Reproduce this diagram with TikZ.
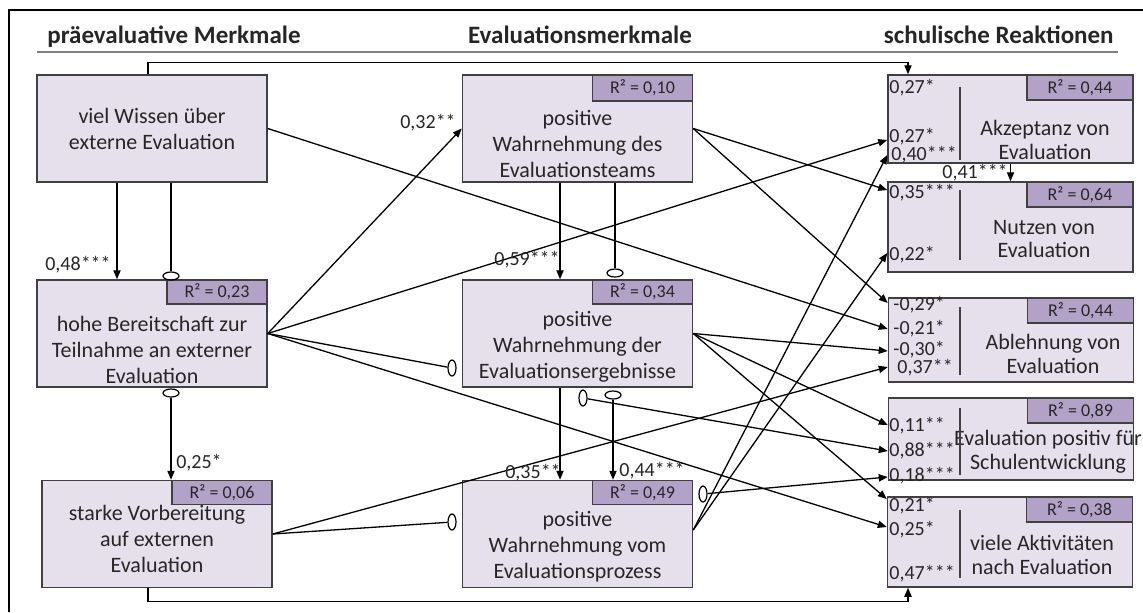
\documentclass[tikz,border=0pt]{standalone}
\usepackage{fontspec}
\setmainfont{Carlito}
\usetikzlibrary{arrows.meta,shapes.geometric,positioning}
\definecolor{boxfill}{HTML}{E6E0EC}
\definecolor{rsqfill}{HTML}{B3A2C7}
\definecolor{boxline}{HTML}{404040}
\definecolor{txt}{HTML}{262626}
\tikzset{
  box/.style={draw=boxline,fill=boxfill,line width=0.75pt,text=txt,align=center,
    font=\fontsize{11}{13}\selectfont,inner sep=0pt,minimum width=115pt,minimum height=53.5pt},
  rbox/.style={box,minimum width=122.5pt},
  boxtext/.style={text=txt,align=center,font=\fontsize{11}{13}\selectfont,inner sep=0pt},
  rtext/.style={boxtext,font=\fontsize{11}{11.8}\selectfont},
  rsq/.style={draw=boxline,fill=rsqfill,line width=0.75pt,text=txt,anchor=north east,
    font=\fontsize{9}{10}\selectfont,inner sep=0pt,minimum width=50pt,minimum height=12pt},
  rrsq/.style={rsq,minimum width=53pt,minimum height=12.5pt},
  coef/.style={text=txt,font=\fontsize{10}{10}\selectfont,inner sep=0pt},
  rcoef/.style={coef,anchor=west},
  head/.style={text=txt,font=\fontsize{12.5}{14}\selectfont\bfseries,inner sep=0pt},
  arrow/.style={-{Triangle[length=4.5pt,width=3.6pt]},line width=0.65pt},
  link/.style={line width=0.65pt},
  divider/.style={draw=boxline,line width=0.6pt},
  ovalh/.style={draw,ellipse,line width=0.6pt,minimum width=8pt,minimum height=4pt,inner sep=0pt},
  ovalv/.style={ovalh,minimum width=4pt,minimum height=8pt},
}
\begin{document}
\begin{tikzpicture}[x=0.5pt,y=-0.5pt]
\useasboundingbox (0,0) rectangle (1143,612);

% frame and headings
\draw[line width=1.2pt] (9,612) -- (9,10) -- (1143,10);
\draw[gray,line width=1pt] (37,52) -- (1118,52);
\node[head,anchor=base west] (H1) at (47,43) {präevaluative Merkmale};
\node[head,anchor=base] (H2) at (580,43) {Evaluationsmerkmale};
\node[head,anchor=base east] (H3) at (1114,43) {schulische Reaktionen};

% praeevaluative Merkmale
\node[box] (B1) at (152,128.5) {viel Wissen über\\externe Evaluation};
\node[box] (B2) at (152,333.5) {};
\node[rsq] (B2r) at (B2.north east) {R² = 0,23};
\node[boxtext] (B2t) at (152,350) {hohe Bereitschaft zur\\Teilnahme an externer\\Evaluation};
\node[box] (B3) at (157,534) {};
\node[rsq] (B3r) at (B3.north east) {R² = 0,06};
\node[boxtext] (B3t) at (157,539) {starke Vorbereitung\\auf externen\\Evaluation};

% Evaluationsmerkmale
\node[box] (M1) at (577.5,128.5) {};
\node[rsq,minimum height=13pt] (M1r) at (M1.north east) {R² = 0,10};
\node[boxtext] (M1t) at (577.5,144) {positive\\Wahrnehmung des\\Evaluationsteams};
\node[box] (M2) at (577.5,333.5) {};
\node[rsq] (M2r) at (M2.north east) {R² = 0,34};
\node[boxtext] (M2t) at (577.5,347) {positive\\Wahrnehmung der\\Evaluationsergebnisse};
\node[box] (M3) at (577.5,534) {};
\node[rsq] (M3r) at (M3.north east) {R² = 0,49};
\node[boxtext] (M3t) at (577.5,547) {positive\\Wahrnehmung vom\\Evaluationsprozess};

% schulische Reaktionen
\node[rbox,minimum height=44pt] (R1) at (1010.5,119) {};
\node[rrsq] (R1r) at (R1.north east) {R² = 0,44};
\node[rtext] (R1t) at (1045,140) {Akzeptanz von\\Evaluation};
\draw[divider] (960,87) -- (960,160);
\node[rbox,minimum height=45pt] (R2) at (1010.5,227) {};
\node[rrsq] (R2r) at (R2.north east) {R² = 0,64};
\node[rtext] (R2t) at (1044,239) {Nutzen von\\Evaluation};
\draw[divider] (960,190) -- (960,260);
\node[rbox,minimum height=42pt] (R3) at (1011,340) {};
\node[rrsq] (R3r) at (R3.north east) {R² = 0,44};
\node[rtext] (R3t) at (1053,354) {Ablehnung von\\Evaluation};
\draw[divider] (960,307) -- (960,375);
\node[rbox,minimum height=41pt] (R4) at (1011,439) {};
\node[rrsq] (R4r) at (R4.north east) {R² = 0,89};
\node[rtext] (R4t) at (1048,452) {Evaluation positiv für\\Schulentwicklung};
\draw[divider] (960,408) -- (960,475);
\node[rbox,minimum height=45pt] (R5) at (1010,542) {};
\node[rrsq] (R5r) at (R5.north east) {R² = 0,38};
\node[rtext] (R5t) at (1042,555) {viele Aktivitäten\\nach Evaluation};
\draw[divider] (960,510) -- (960,578);

% ovals
\node[ovalh] (o1) at (171,276) {};
\node[ovalh] (o2) at (171,393) {};
\node[ovalh] (o3) at (615,273) {};
\node[ovalh] (o4) at (613,395) {};
\node[ovalv] (o5) at (452,368) {};
\node[ovalv] (o6) at (452,522) {};
\node[ovalv] (o7) at (583,398) {};
\node[ovalv] (o8) at (703,494) {};

% vertical paths
\draw[arrow] ([xshift=-17.5pt]B1.south) -- ([xshift=-17.5pt]B2.north);
\draw[link] (o1 |- B1.south) -- (o1);
\draw[arrow] (o2) -- (o2 |- B3.north);
\draw[arrow] ([xshift=-8.75pt]M1.south) -- ([xshift=-8.75pt]M2.north);
\draw[link] (o3 |- M1.south) -- (o3);
\draw[arrow] ([xshift=-8.75pt]M2.south) -- ([xshift=-8.75pt]M3.north);
\draw[arrow] (o4) -- (o4 |- M3.north);
\draw[arrow] (R1.south) -- (R2.north);
\draw[arrow] ([xshift=-2pt]B1.north) -- ++(0,6pt) -| ([xshift=-51.25pt]R1.north);
\draw[arrow] ([xshift=-4.5pt]B3.south) -- ++(0,-6.5pt) -| ([xshift=-51pt]R5.south);

% paths from the left column
\draw[link] (B2.east) -- (o5);
\draw[link] (B3.east) -- (o6);
\draw[arrow] (B2.east) -- (M1.west);
\draw[arrow] (B2.east) -- (R1.west |- 0,140);
\draw[arrow] (B2.east) -- (R5.west |- 0,527);
\draw[arrow] (B1.east) -- (R3.west |- 0,329);
\draw[arrow] (B3.east) -- (R3.west |- 0,367);

% paths from the middle column
\draw[arrow] (M1.east) -- (R2.west |- 0,190);
\draw[arrow] (M1.east) -- (R3.west |- 0,303);
\draw[arrow] (M2.east) -- (R3.west |- 0,351);
\draw[arrow] (M2.east) -- (R4.west |- 0,425);
\draw[arrow] (M2.east) -- (R5.west |- 0,499);
\draw[arrow] (M3.east |- 0,530) -- (R1.west |- 0,155);
\draw[arrow] (M3.east |- 0,530) -- (R2.west |- 0,253);
\draw[arrow] (o7) -- (R4.west |- 0,451);
\draw[arrow] (o8) -- (R4.west |- 0,477);

% coefficients
\node[coef] (c1) at (78,265) {0,48***};
\node[coef] (c2) at (199,463) {0,25*};
\node[coef] (c3) at (428,123) {0,32**};
\node[coef] (c4) at (527,260) {0,59***};
\node[coef] (c5) at (533,473) {0,35**};
\node[coef] (c6) at (652,471) {0,44***};
\node[coef] (c7) at (975,173) {0,41***};
\node[rcoef] at (889,88) {0,27*};
\node[rcoef] at (889,137) {0,27*};
\node[rcoef] at (891,155) {0,40***};
\node[rcoef] at (889,193) {0,35***};
\node[rcoef] at (889,255) {0,22*};
\node[rcoef] at (893,305) {-0,29*};
\node[rcoef] at (893,329) {-0,21*};
\node[rcoef] at (893,350) {-0,30*};
\node[rcoef] at (897,368) {0,37**};
\node[rcoef] at (889,426) {0,11**};
\node[rcoef] at (889,451) {0,88***};
\node[rcoef] at (889,476) {0,18***};
\node[rcoef] at (889,506) {0,21*};
\node[rcoef] at (889,530) {0,25*};
\node[rcoef] at (889,574) {0,47***};
\end{tikzpicture}
\end{document}
